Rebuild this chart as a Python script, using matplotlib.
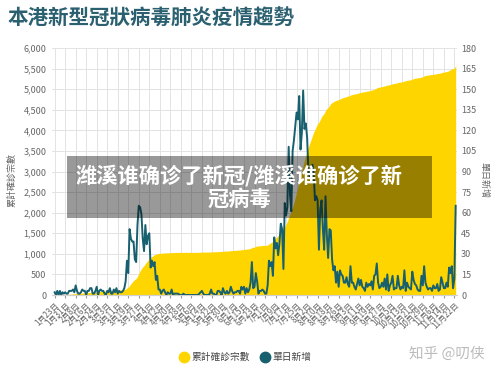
import matplotlib
matplotlib.use("Agg")
import matplotlib.pyplot as plt
import numpy as np
from matplotlib.patches import Rectangle
from matplotlib.lines import Line2D

plt.rcParams['font.family'] = ['Noto Sans CJK TC', 'DejaVu Sans']

# ---- data (daily new cases, 2020-01-23 .. 2020-11-23) ----
jan = [2, 0, 3, 0, 3, 0, 2, 1, 2]
feb = [1, 1, 3, 3, 3, 4, 2, 7, 3, 1, 1, 2, 4, 3, 3, 0, 3, 3, 5, 5, 1, 1, 3, 6, 0, 3, 4, 3, 3]
mar = [1, 0, 3, 2, 5, 1, 1, 4, 2, 5, 1, 3, 2, 2,
       3, 5, 10, 25, 16, 48, 41, 39, 39, 26, 24, 51, 65, 64, 59, 41, 32]
apr = [51, 37, 43, 45, 20, 25, 21, 24, 11, 14,
       4, 4, 1, 3, 4, 2, 0, 2, 1, 1, 4, 0, 1, 1, 1, 1, 0, 0, 0, 1]
may = [0, 0, 0, 0, 0, 0, 0, 0, 0, 0, 0, 1, 2, 3, 1, 0, 0, 0, 0, 1, 4, 1, 1, 0, 0, 3, 3, 2, 0, 5, 2]
jun = [1, 3, 1, 2, 6, 3, 1, 2, 2, 3, 3, 1, 6, 4, 6, 1, 5, 2, 4, 9, 24, 5, 6, 16, 10, 1, 3, 3, 4, 3]
jul = [1, 1, 7, 25, 21, 24, 14, 42, 34, 38, 29, 38, 52, 48, 19, 67, 58, 64, 108, 73, 61,
       105, 113, 123, 133, 128, 145, 106, 118, 149, 121]
aug = [125, 115, 90, 86, 85, 95, 89, 69, 72, 69, 33, 62, 69, 48, 33, 72, 44, 27, 48, 47,
       26, 18, 21, 9, 17, 6, 18, 15, 14, 9, 9]
sep = [13, 8, 6, 21, 9, 9, 6, 4, 8, 12, 7, 11, 6, 5, 3, 9, 6, 8, 7, 10, 4, 14, 15, 23, 9,
       5, 6, 9, 6, 12]
oct_ = [4, 15, 3, 7, 9, 14, 4, 5, 5, 14, 7, 4, 6, 5, 18, 3, 9, 6, 5, 4, 17, 11, 8, 7, 4,
        3, 3, 14, 7, 21, 9]
nov = [6, 4, 5, 5, 3, 7, 5, 5, 8, 3, 4, 13, 9, 5, 5, 9, 6, 20, 16, 21, 5, 12, 65]

daily = np.array(jan + feb + mar + apr + may + jun + jul + aug + sep + oct_ + nov, dtype=float)
cumulative = np.cumsum(daily)
days = np.arange(len(daily))

tick_labels = ['1月23日', '1月31日', '2月8日', '2月16日', '2月24日', '3月3日', '3月11日',
               '3月19日', '3月27日', '4月4日', '4月12日', '4月20日', '4月28日', '5月6日',
               '5月14日', '5月22日', '5月30日', '6月7日', '6月15日', '6月23日', '7月1日',
               '7月9日', '7月17日', '7月25日', '8月2日', '8月10日', '8月18日', '8月26日',
               '9月3日', '9月11日', '9月19日', '9月27日', '10月5日', '10月13日', '10月21日',
               '10月29日', '11月6日', '11月14日', '11月22日']
left_ticks = [0, 500, 1000, 1500, 2000, 2500, 3000, 3500, 4000, 4500, 5000, 5500, 6000]
right_ticks = [0, 15, 30, 45, 60, 75, 90, 105, 120, 135, 150, 165, 180]

title = '本港新型冠狀病毒肺炎疫情趨勢'
series_names = ['累計確診宗數', '單日新增']

YELLOW = '#FFD500'
TEAL = '#17606F'
GRID = '#E3E3E3'
TXT = '#666666'

fig = plt.figure(figsize=(5, 3.75), dpi=100)
ax = fig.add_axes([0.104, 0.2133, 0.81, 0.6587])
ax2 = ax.twinx()

ax.fill_between(days, 0, cumulative, color=YELLOW, linewidth=0, zorder=2)
ax2.plot(days, daily, color=TEAL, linewidth=1.4, zorder=3)

ax.set_xlim(-2, 306)
ax.set_ylim(0, 6000)
ax2.set_ylim(0, 180)
ax.set_yticks(left_ticks)
ax.set_yticklabels([f'{v:,}' for v in left_ticks])
ax2.set_yticks(right_ticks)
ax.set_xticks(np.arange(0, 8 * len(tick_labels), 8))
ax.set_xticklabels(tick_labels, rotation=45, ha='right', rotation_mode='anchor')

ax.grid(True, color=GRID, linewidth=0.7, zorder=0)
ax.set_axisbelow(True)
for a in (ax, ax2):
    for s in ['top', 'right', 'left']:
        a.spines[s].set_visible(False)
    a.spines['bottom'].set_color('#D0D0D0')
ax.tick_params(axis='y', length=0, labelsize=6.5, labelcolor=TXT, pad=4)
ax2.tick_params(axis='y', length=0, labelsize=6.5, labelcolor=TXT, pad=3)
ax.tick_params(axis='x', length=2, color='#999999', labelsize=5.8, labelcolor=TXT, pad=2)

fig.text(0.024, 0.52, series_names[0], rotation=90, fontsize=6.5, color=TXT,
         ha='center', va='center')
fig.text(0.968, 0.52, series_names[1], rotation=-90, fontsize=6.5, color=TXT,
         ha='center', va='center')

fig.text(0.016, 0.952, title, fontsize=14.8, fontweight='bold', color='#2B6070',
         ha='left', va='center')

handles = [Line2D([0], [0], marker='o', linestyle='none', markersize=7.5,
                  markerfacecolor=YELLOW, markeredgecolor=YELLOW),
           Line2D([0], [0], marker='o', linestyle='none', markersize=7.5,
                  markerfacecolor=TEAL, markeredgecolor=TEAL)]
fig.legend(handles, series_names, loc='center', bbox_to_anchor=(0.49, 0.048), ncol=2,
           frameon=False, fontsize=7, labelcolor='#444444', handletextpad=0.2,
           columnspacing=0.9, handlelength=1.2)

fig.text(0.818, 0.058, '知乎 @叨侠', fontsize=10.5, color='#BBBBBB', ha='left', va='center',
         family=['Noto Sans CJK SC', 'DejaVu Sans'])

# overlay banner
fig.patches.append(Rectangle((0.134, 0.4187), 0.73, 0.1653, transform=fig.transFigure,
                             facecolor='black', alpha=0.4, edgecolor='none', zorder=5))
fig.text(0.478, 0.5013, '潍溪谁确诊了新冠/潍溪谁确诊了新\n冠病毒', fontsize=15.3,
         fontweight='bold', color='white', ha='center', va='center', linespacing=1.1,
         family=['Noto Sans CJK SC', 'DejaVu Sans'], zorder=6)

fig.savefig('out.png', dpi=100)
